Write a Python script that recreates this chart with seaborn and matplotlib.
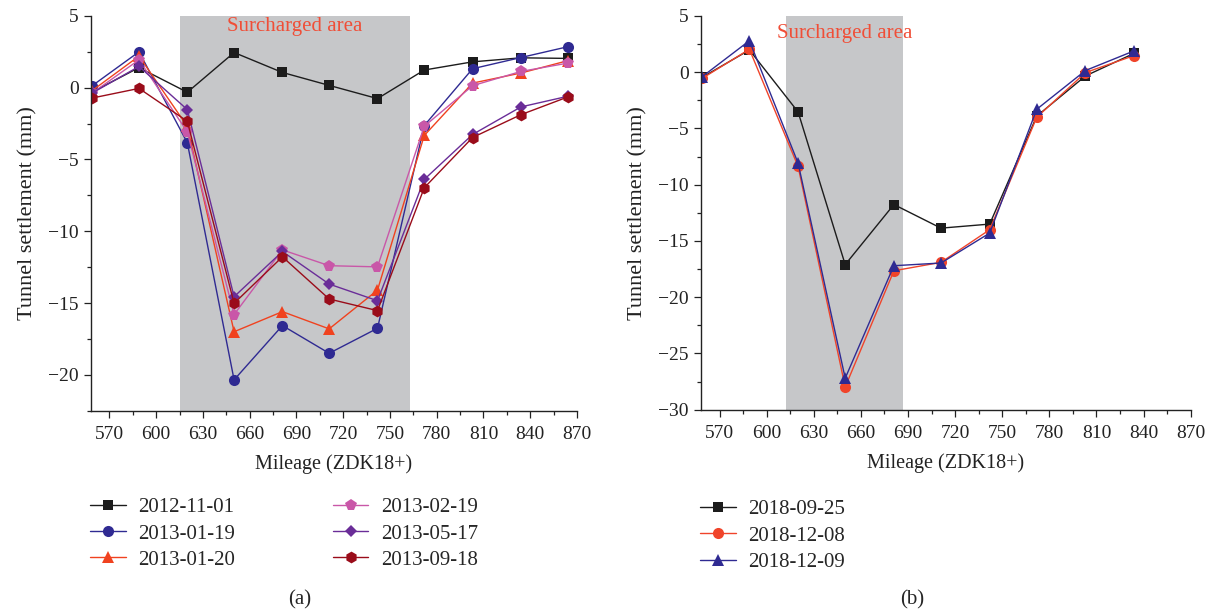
import numpy as np
import pandas as pd
import matplotlib
matplotlib.use("Agg")
import matplotlib.pyplot as plt
import seaborn as sns
from matplotlib.ticker import MultipleLocator

# 数据
mileage_a = [559, 589, 620, 650, 681, 711, 742, 772, 803, 834, 864]
mileage_b = [559, 589, 620, 650, 681, 711, 742, 772, 803, 834]

s_20121101 = [-0.3, 1.4, -0.32, 2.45, 1.06, 0.16, -0.76, 1.23, 1.8, 2.08, 2.04]
s_20130119 = [0.14, 2.5, -3.84, -20.35, -16.57, -18.5, -16.76, -2.64, 1.32, 2.1, 2.85]
s_20130120 = [-0.2, 2.2, -2.7, -17.0, -15.6, -16.8, -14.1, -3.33, 0.32, 1.02, 1.88]
s_20130219 = [-0.37, 1.94, -3.08, -15.8, -11.3, -12.4, -12.48, -2.69, 0.14, 1.13, 1.71]
s_20130517 = [-0.37, 1.48, -1.53, -14.56, -11.41, -13.68, -14.84, -6.39, -3.26, -1.34, -0.6]
s_20130918 = [-0.72, -0.05, -2.34, -15.02, -11.78, -14.72, -15.53, -6.97, -3.47, -1.88, -0.65]

s_20180925 = [-0.45, 1.98, -3.53, -17.1, -11.76, -13.86, -13.5, -3.9, -0.33, 1.68]
s_20181208 = [-0.54, 2.04, -8.38, -27.98, -17.65, -16.9, -14.0, -4.0, -0.03, 1.48]
s_20181209 = [-0.39, 2.8, -8.08, -27.2, -17.2, -16.96, -14.3, -3.29, 0.15, 1.9]

labels_a = ["2012-11-01", "2013-01-19", "2013-01-20", "2013-02-19", "2013-05-17", "2013-09-18"]
labels_b = ["2018-09-25", "2018-12-08", "2018-12-09"]

sns.set_style("ticks")
plt.rcParams["font.family"] = ["Liberation Serif", "DejaVu Serif"]
plt.rcParams["axes.unicode_minus"] = True

series_a = [s_20121101, s_20130119, s_20130120, s_20130219, s_20130517, s_20130918]
colors_a = ["#1c1c1c", "#2f2a92", "#f0421f", "#c957a8", "#6a2d98", "#9a0c1a"]
markers_a = ["s", "o", "^", "p", "D", "h"]
sizes_a = [7, 8, 8.5, 8.5, 6.5, 8.5]

series_b = [s_20180925, s_20181208, s_20181209]
colors_b = ["#1c1c1c", "#f0442a", "#2f2a92"]
markers_b = ["s", "o", "^"]
sizes_b = [7, 8, 8.5]

fig = plt.figure(figsize=(12.14, 6.14), dpi=100)
ax1 = fig.add_axes([0.0747, 0.3311, 0.4006, 0.643])
ax2 = fig.add_axes([0.5772, 0.3327, 0.4036, 0.6413])

text_color = "#f04e37"
gray = "#c6c7c9"
ink = "#222222"


def draw(ax, x, series, labels, colors, markers, sizes):
    for vals, lab, c, m, ms in zip(series, labels, colors, markers, sizes):
        df = pd.DataFrame({"mileage": x, "settlement": vals})
        sns.lineplot(
            data=df, x="mileage", y="settlement", ax=ax, color=c, marker=m,
            markersize=ms, markeredgewidth=0, linewidth=1.0, label=lab,
            sort=False, legend=False,
        )


# (a)
ax1.axvspan(615, 763, color=gray, zorder=0, lw=0)
draw(ax1, mileage_a, series_a, labels_a, colors_a, markers_a, sizes_a)
ax1.text(688.7, 4.26, "Surcharged area", color=text_color, fontsize=15,
         ha="center", va="center")
ax1.set_xlim(558, 870)
ax1.set_ylim(-22.5, 5)

# (b)
ax2.axvspan(612, 686.5, color=gray, zorder=0, lw=0)
draw(ax2, mileage_b, series_b, labels_b, colors_b, markers_b, sizes_b)
ax2.text(649.6, 3.46, "Surcharged area", color=text_color, fontsize=15,
         ha="center", va="center")
ax2.set_xlim(558, 870)
ax2.set_ylim(-30, 5)

for ax in (ax1, ax2):
    ax.xaxis.set_major_locator(MultipleLocator(30))
    ax.xaxis.set_minor_locator(MultipleLocator(15))
    ax.yaxis.set_major_locator(MultipleLocator(5))
    ax.yaxis.set_minor_locator(MultipleLocator(2.5))
    ax.tick_params(which="major", length=5, width=0.9, labelsize=14, colors=ink)
    ax.tick_params(axis="x", which="major", pad=6)
    ax.tick_params(which="minor", length=3, width=0.9, colors=ink)
    for sp in ("top", "right"):
        ax.spines[sp].set_visible(False)
    for sp in ("left", "bottom"):
        ax.spines[sp].set_linewidth(1.0)
        ax.spines[sp].set_color(ink)
    ax.set_xlabel("Mileage (ZDK18+)", fontsize=14.5, color=ink, labelpad=8)
    ax.set_ylabel("Tunnel settlement (mm)", fontsize=16, color=ink, labelpad=8)

# 图例
h1, l1 = ax1.get_legend_handles_labels()
fig.legend(h1, l1, loc="upper left", bbox_to_anchor=(0.0589, 0.22),
           bbox_transform=fig.transFigure, ncol=2, frameon=False,
           fontsize=15, handlelength=1.7, handletextpad=0.6,
           columnspacing=4.7, labelspacing=0.32)
h2, l2 = ax2.get_legend_handles_labels()
fig.legend(h2, l2, loc="upper left", bbox_to_anchor=(0.5614, 0.2165),
           bbox_transform=fig.transFigure, ncol=1, frameon=False,
           fontsize=15, handlelength=1.7, handletextpad=0.6,
           labelspacing=0.32)

fig.text(300 / 1214, 1 - 600 / 614, "(a)", ha="center", va="center", fontsize=15)
fig.text(912 / 1214, 1 - 600 / 614, "(b)", ha="center", va="center", fontsize=15)

fig.savefig("out.png", dpi=100)
